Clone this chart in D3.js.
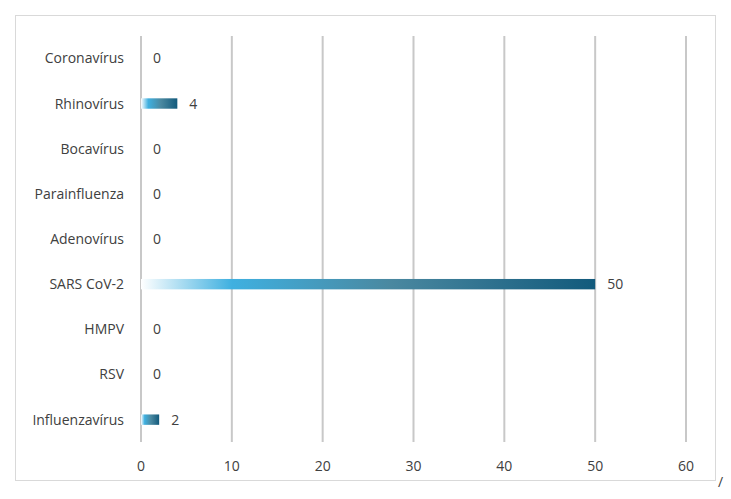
<!DOCTYPE html>
<html><head><meta charset="utf-8">
<script src="https://cdn.jsdelivr.net/npm/d3@7"></script>
<style>body{margin:0;background:#fff}svg{font-family:"Open Sans","Liberation Sans",Arial,sans-serif}</style>
</head><body><svg id="c" width="731" height="499"></svg>
<script>
const categories = ['Coronavírus','Rhinovírus','Bocavírus','Parainfluenza','Adenovírus','SARS CoV-2','HMPV','RSV','Influenzavírus'];
const values = [0,4,0,0,0,50,0,0,2];
const xTicks = [0,10,20,30,40,50,60];

const svg = d3.select('#c');
svg.append('rect').attr('x',15.5).attr('y',15.5).attr('width',700).attr('height',465)
  .attr('fill','#fff').attr('stroke','#d9d9d9');

const x = d3.scaleLinear().domain([0,60]).range([141,686]);
const y = d3.scaleBand().domain(categories).range([36,442]).paddingInner(0.77).paddingOuter(0.38);

const grad = svg.append('defs').append('linearGradient').attr('id','g');
[['0%','#ffffff'],['20%','#3fb0e0'],['55%','#4a88a0'],['100%','#125a7c']].forEach(s =>
  grad.append('stop').attr('offset',s[0]).attr('stop-color',s[1]));

svg.append('g').selectAll('line').data(xTicks).join('line')
  .attr('x1',d=>x(d)).attr('x2',d=>x(d)).attr('y1',36).attr('y2',442)
  .attr('stroke','#c8c8c8').attr('stroke-width',2);

svg.append('g').selectAll('text').data(xTicks).join('text')
  .attr('x',d=>x(d)).attr('y',471).attr('text-anchor','middle')
  .attr('font-size',14).attr('fill','#404040').text(d=>d);

svg.append('g').selectAll('rect').data(values).join('rect')
  .attr('x',x(0)).attr('y',(d,i)=>y(categories[i]))
  .attr('width',d=>x(d)-x(0)).attr('height',y.bandwidth())
  .attr('fill','url(#g)');

svg.append('g').selectAll('text').data(values).join('text')
  .attr('x',d=>x(d)+12).attr('y',(d,i)=>y(categories[i])+y.bandwidth()/2+5)
  .attr('font-size',14).attr('fill','#404040').text(d=>d);

svg.append('g').selectAll('text').data(categories).join('text')
  .attr('x',124).attr('y',d=>y(d)+y.bandwidth()/2+5).attr('text-anchor','end')
  .attr('font-size',14).attr('fill','#404040').text(d=>d);

svg.append('text').attr('x',718).attr('y',487).attr('font-size',14).attr('fill','#404040').text('/');
</script></body></html>
